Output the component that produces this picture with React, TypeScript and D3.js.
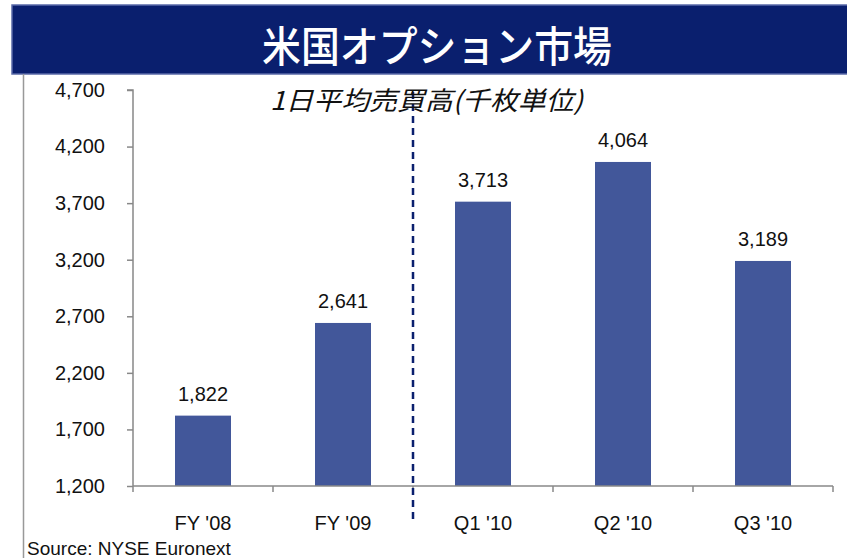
import { useRef, useEffect } from "react";
import * as d3 from "d3";

// 米国オプション市場 - 1日平均売買高 (千枚単位)
const categories = ["FY '08", "FY '09", "Q1 '10", "Q2 '10", "Q3 '10"];
const values = [1822, 2641, 3713, 4064, 3189];
const yTicks = [1200, 1700, 2200, 2700, 3200, 3700, 4200, 4700];

const W = 847;
const H = 558;
const chart = { left: 133, right: 833, top: 90, bottom: 486 };
const barColor = "#42579a";
const navy = "#0a1f6e";
const font = "'Liberation Sans', Arial, sans-serif";
const cjk = "'Noto Sans CJK JP', sans-serif";

export default function App() {
  const svgRef = useRef<SVGSVGElement | null>(null);

  useEffect(() => {
    const svg = d3.select(svgRef.current);
    svg.selectAll("*").remove();

    const x = d3.scaleBand<string>()
      .domain(categories)
      .range([chart.left, chart.right])
      .paddingInner(0.6)
      .paddingOuter(0.3);

    const y = d3.scaleLinear()
      .domain([1200, 4700])
      .range([chart.bottom, chart.top]);

    // title banner
    svg.append("rect")
      .attr("x", 12).attr("y", 5)
      .attr("width", W).attr("height", 69)
      .attr("fill", navy)
      .attr("stroke", "#5a6aa8").attr("stroke-width", 1.5);
    svg.append("text")
      .attr("x", 262).attr("y", 62)
      .attr("fill", "#fff")
      .attr("font-family", cjk)
      .attr("font-weight", 500)
      .attr("font-size", 42)
      .attr("textLength", 350)
      .attr("lengthAdjust", "spacingAndGlyphs")
      .text("米国オプション市場");

    // left frame line
    svg.append("line")
      .attr("x1", 23.5).attr("x2", 23.5)
      .attr("y1", 74).attr("y2", H)
      .attr("stroke", "#999").attr("stroke-width", 1.5);

    // y axis
    const yAxis = d3.axisLeft(y).tickValues(yTicks)
      .tickFormat(d3.format(",") as any)
      .tickSize(6).tickPadding(22);
    const gy = svg.append("g")
      .attr("transform", `translate(${chart.left},0)`)
      .call(yAxis);
    gy.selectAll("path, line").attr("stroke", "#888").attr("stroke-width", 1.5);
    gy.select(".domain").attr("d", `M-6,${chart.top}H0V${chart.bottom}`);
    gy.selectAll("text")
      .attr("font-family", font).attr("font-size", 20).attr("fill", "#111");

    // bars
    svg.append("g").selectAll("rect")
      .data(values)
      .join("rect")
      .attr("x", (_, i) => x(categories[i])!)
      .attr("y", d => y(d))
      .attr("width", x.bandwidth())
      .attr("height", d => chart.bottom - y(d))
      .attr("fill", barColor);

    // value labels
    svg.append("g").selectAll("text")
      .data(values)
      .join("text")
      .attr("x", (_, i) => x(categories[i])! + x.bandwidth() / 2)
      .attr("y", d => y(d) - 15)
      .attr("text-anchor", "middle")
      .attr("font-family", font).attr("font-size", 20).attr("fill", "#111")
      .text(d => d3.format(",")(d));

    // x axis (ticks between categories)
    const step = x.step();
    const bounds = d3.range(categories.length + 1).map(i => chart.left + i * step);
    const gx = svg.append("g");
    gx.append("line")
      .attr("x1", chart.left).attr("x2", chart.right)
      .attr("y1", chart.bottom).attr("y2", chart.bottom)
      .attr("stroke", "#888").attr("stroke-width", 1.5);
    gx.selectAll(".tk")
      .data(bounds)
      .join("line")
      .attr("x1", d => d).attr("x2", d => d)
      .attr("y1", chart.bottom).attr("y2", chart.bottom + 6)
      .attr("stroke", "#888").attr("stroke-width", 1.5);
    gx.selectAll("text")
      .data(categories)
      .join("text")
      .attr("x", d => x(d)! + x.bandwidth() / 2)
      .attr("y", chart.bottom + 44)
      .attr("text-anchor", "middle")
      .attr("font-family", font).attr("font-size", 20).attr("fill", "#111")
      .text(d => d);

    // dashed separator between FY and quarters
    svg.append("line")
      .attr("x1", bounds[2]).attr("x2", bounds[2])
      .attr("y1", 92).attr("y2", 523)
      .attr("stroke", navy).attr("stroke-width", 2.5)
      .attr("stroke-dasharray", "7,5");

    // subtitle
    svg.append("text")
      .attr("x", 270).attr("y", 110)
      .attr("font-family", cjk)
      .attr("font-style", "italic")
      .attr("font-size", 26)
      .attr("fill", "#111")
      .attr("textLength", 313)
      .attr("lengthAdjust", "spacingAndGlyphs")
      .text("1日平均売買高(千枚単位)");

    // source
    svg.append("text")
      .attr("x", 27).attr("y", 555)
      .attr("font-family", font).attr("font-size", 19).attr("fill", "#111")
      .text("Source: NYSE Euronext");
  }, [svgRef]);

  return (
    <div style={{ position: "absolute", left: 0, top: 0, background: "#fff" }}>
      <svg ref={svgRef} width={W} height={H} style={{ display: "block" }}></svg>
    </div>
  );
}
